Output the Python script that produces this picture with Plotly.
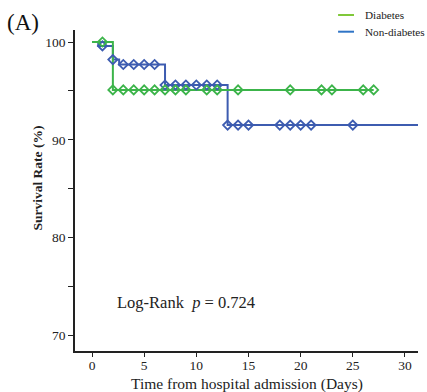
import plotly.graph_objects as go

# Step curves (Kaplan-Meier)
green_t = [0, 2, 27]
green_s = [100, 95.1, 95.1]
blue_t = [0, 0.6, 2, 2.6, 7, 13, 31.3]
blue_s = [100, 99.6, 98.2, 97.7, 95.6, 91.5, 91.5]

# Censor markers
green_mt = [1, 2, 3, 4, 5, 6, 7, 8, 9, 11, 12, 14, 19, 22, 23, 26, 27]
green_ms = [100] + [95.1] * 16
blue_mt = [1, 2, 3, 4, 5, 6, 7, 8, 9, 10, 11, 12, 13, 14, 15, 18, 19, 20, 21, 25]
blue_ms = [99.6, 98.2] + [97.7] * 4 + [95.6] * 6 + [91.5] * 8

x_ticks = [0, 5, 10, 15, 20, 25, 30]
y_ticks = [70, 75, 80, 85, 90, 95, 100]
y_ticktext = ["70", "", "80", "", "90", "", "100"]

series_names = ["Diabetes", "Non-diabetes"]

GREEN = "#3cb44a"
BLUE = "#3d5cb0"
GREEN_LEG = "#80c83a"
BLUE_LEG = "#2f74c6"
FONT = "Liberation Serif, Times New Roman, serif"

fig = go.Figure()
fig.add_trace(go.Scatter(x=blue_t, y=blue_s, mode="lines", line=dict(color=BLUE, width=2, shape="hv"),
                         showlegend=False, hoverinfo="skip"))
fig.add_trace(go.Scatter(x=green_t, y=green_s, mode="lines", line=dict(color=GREEN, width=2, shape="hv"),
                         showlegend=False, hoverinfo="skip"))
fig.add_trace(go.Scatter(x=blue_mt, y=blue_ms, mode="markers",
                         marker=dict(symbol="diamond-open", size=7, color=BLUE, line=dict(width=1.8, color=BLUE)),
                         showlegend=False))
fig.add_trace(go.Scatter(x=green_mt, y=green_ms, mode="markers",
                         marker=dict(symbol="diamond-open", size=7, color=GREEN, line=dict(width=1.8, color=GREEN)),
                         showlegend=False))

# manual legend (paper coordinates)
leg_cols = [GREEN_LEG, BLUE_LEG]
leg_y = [1.0467, 0.9947]
shapes = []
annotations = []
for name, col, yy in zip(series_names, leg_cols, leg_y):
    shapes.append(dict(type="line", xref="paper", yref="paper", x0=0.767, x1=0.8134, y0=yy, y1=yy,
                       line=dict(color=col, width=2)))
    annotations.append(dict(text=name, xref="paper", yref="paper", x=0.8397, y=yy, xanchor="left",
                            yanchor="middle", showarrow=False, font=dict(size=11.2, family=FONT, color="#222")))

annotations += [
    dict(text="(A)", xref="paper", yref="paper", x=-0.205, y=1.022, xanchor="left", yanchor="middle",
         showarrow=False, font=dict(size=23, family=FONT, color="#111")),
    dict(text="<b>Survival Rate (%)</b>", xref="paper", yref="paper", x=-0.108, y=0.54,
         xanchor="center", yanchor="middle", textangle=-90, showarrow=False,
         font=dict(size=13.5, family=FONT, color="#222")),
    dict(text="Log-Rank  <i>p</i> = 0.724", xref="paper", yref="paper", x=0.325, y=0.15,
         xanchor="center", yanchor="middle", showarrow=False, font=dict(size=16.5, family=FONT, color="#222")),
    dict(text="Time from hospital admission (Days)", xref="paper", yref="paper", x=0.5, y=-0.103,
         xanchor="center", yanchor="middle", showarrow=False, font=dict(size=15.5, family=FONT, color="#222")),
]

fig.update_layout(
    width=427, height=392,
    margin=dict(l=75, r=9, t=30, b=41, autoexpand=False),
    plot_bgcolor="white", paper_bgcolor="white",
    font=dict(family=FONT, size=14, color="#222"),
    showlegend=False,
    xaxis=dict(range=[-1.63, 31.25], tickvals=x_ticks, ticks="outside", ticklen=4, tickcolor="#222",
               showline=True, linecolor="#222", linewidth=1.5, showgrid=False, zeroline=False,
               tickfont=dict(size=13.5), ticklabelstandoff=-3),
    yaxis=dict(range=[68.39, 101.23], tickvals=y_ticks, ticktext=y_ticktext, ticks="outside", ticklen=5,
               tickcolor="#222", showline=True, linecolor="#222", linewidth=1.5, showgrid=False, zeroline=False,
               tickfont=dict(size=13.5)),
    shapes=shapes,
    annotations=annotations,
)

fig.write_html("out.html", config={"displayModeBar": False},
               post_script="document.body.style.margin='0';document.body.style.overflow='hidden';")
